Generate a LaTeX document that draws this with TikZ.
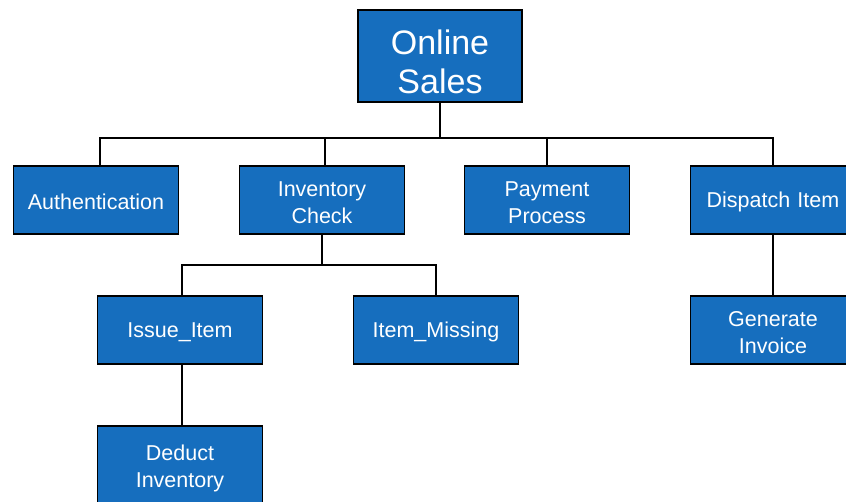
\documentclass[tikz,border=0pt]{standalone}
\usepackage{fontspec}
\setmainfont{Liberation Sans}
\definecolor{boxblue}{RGB}{22,110,190}
\begin{document}
\begin{tikzpicture}
    [x=1pt,y=-1pt,
    task/.style={draw=black,line width=1.6pt,fill=boxblue,text=white,
        text width=158pt,align=center,
        minimum width=165pt,minimum height=68pt,inner sep=2pt,
        font=\fontsize{21.5}{26.5}\selectfont,
        execute at begin node={\rule{0pt}{20pt}}},
    root/.style={task,text width=158pt,minimum width=164pt,minimum height=92pt,
        font=\fontsize{34}{38.5}\selectfont,
        execute at begin node={\rule{0pt}{36pt}}},
    link/.style={draw=black,line width=1.4pt}]
		\clip (0,0) rectangle (846,501);
		\node [root] (sales) at (440,56) {Online\\Sales};

		\node [task] (auth) at (96,200) {Authentication};
		\node [task] (check) at (322,200) {Inventory\\Check};
		\node [task] (pay) at (547,200) {Payment\\Process};
		\node [task] (dispatch) at (773,200) {Dispatch Item};

		\node [task] (issue) at (180,330) {Issue\_Item};
		\node [task] (missing) at (436,330) {Item\_Missing};
		\node [task] (invoice) at (773,330) {Generate\\Invoice};

		\node [task,minimum height=80pt] (deduct) at (180,466) {Deduct\\Inventory};

		\draw[link] (sales.south) -- (440,138) coordinate (bus);
		\draw[link] (auth.north -| 100,0) |- (bus) -| (dispatch.north);
		\draw[link] (check.north -| 325,0) -- (325,138);
		\draw[link] (pay.north) -- (547,138);

		\draw[link] (check.south -| 322,0) -- (322,265) coordinate (fork);
		\draw[link] (issue.north -| 182,0) |- (fork) -| (missing.north);
		\draw[link] (issue.south -| 182,0) -- (deduct.north -| 182,0);
		\draw[link] (dispatch) -- (invoice);
    \end{tikzpicture}
\end{document}
